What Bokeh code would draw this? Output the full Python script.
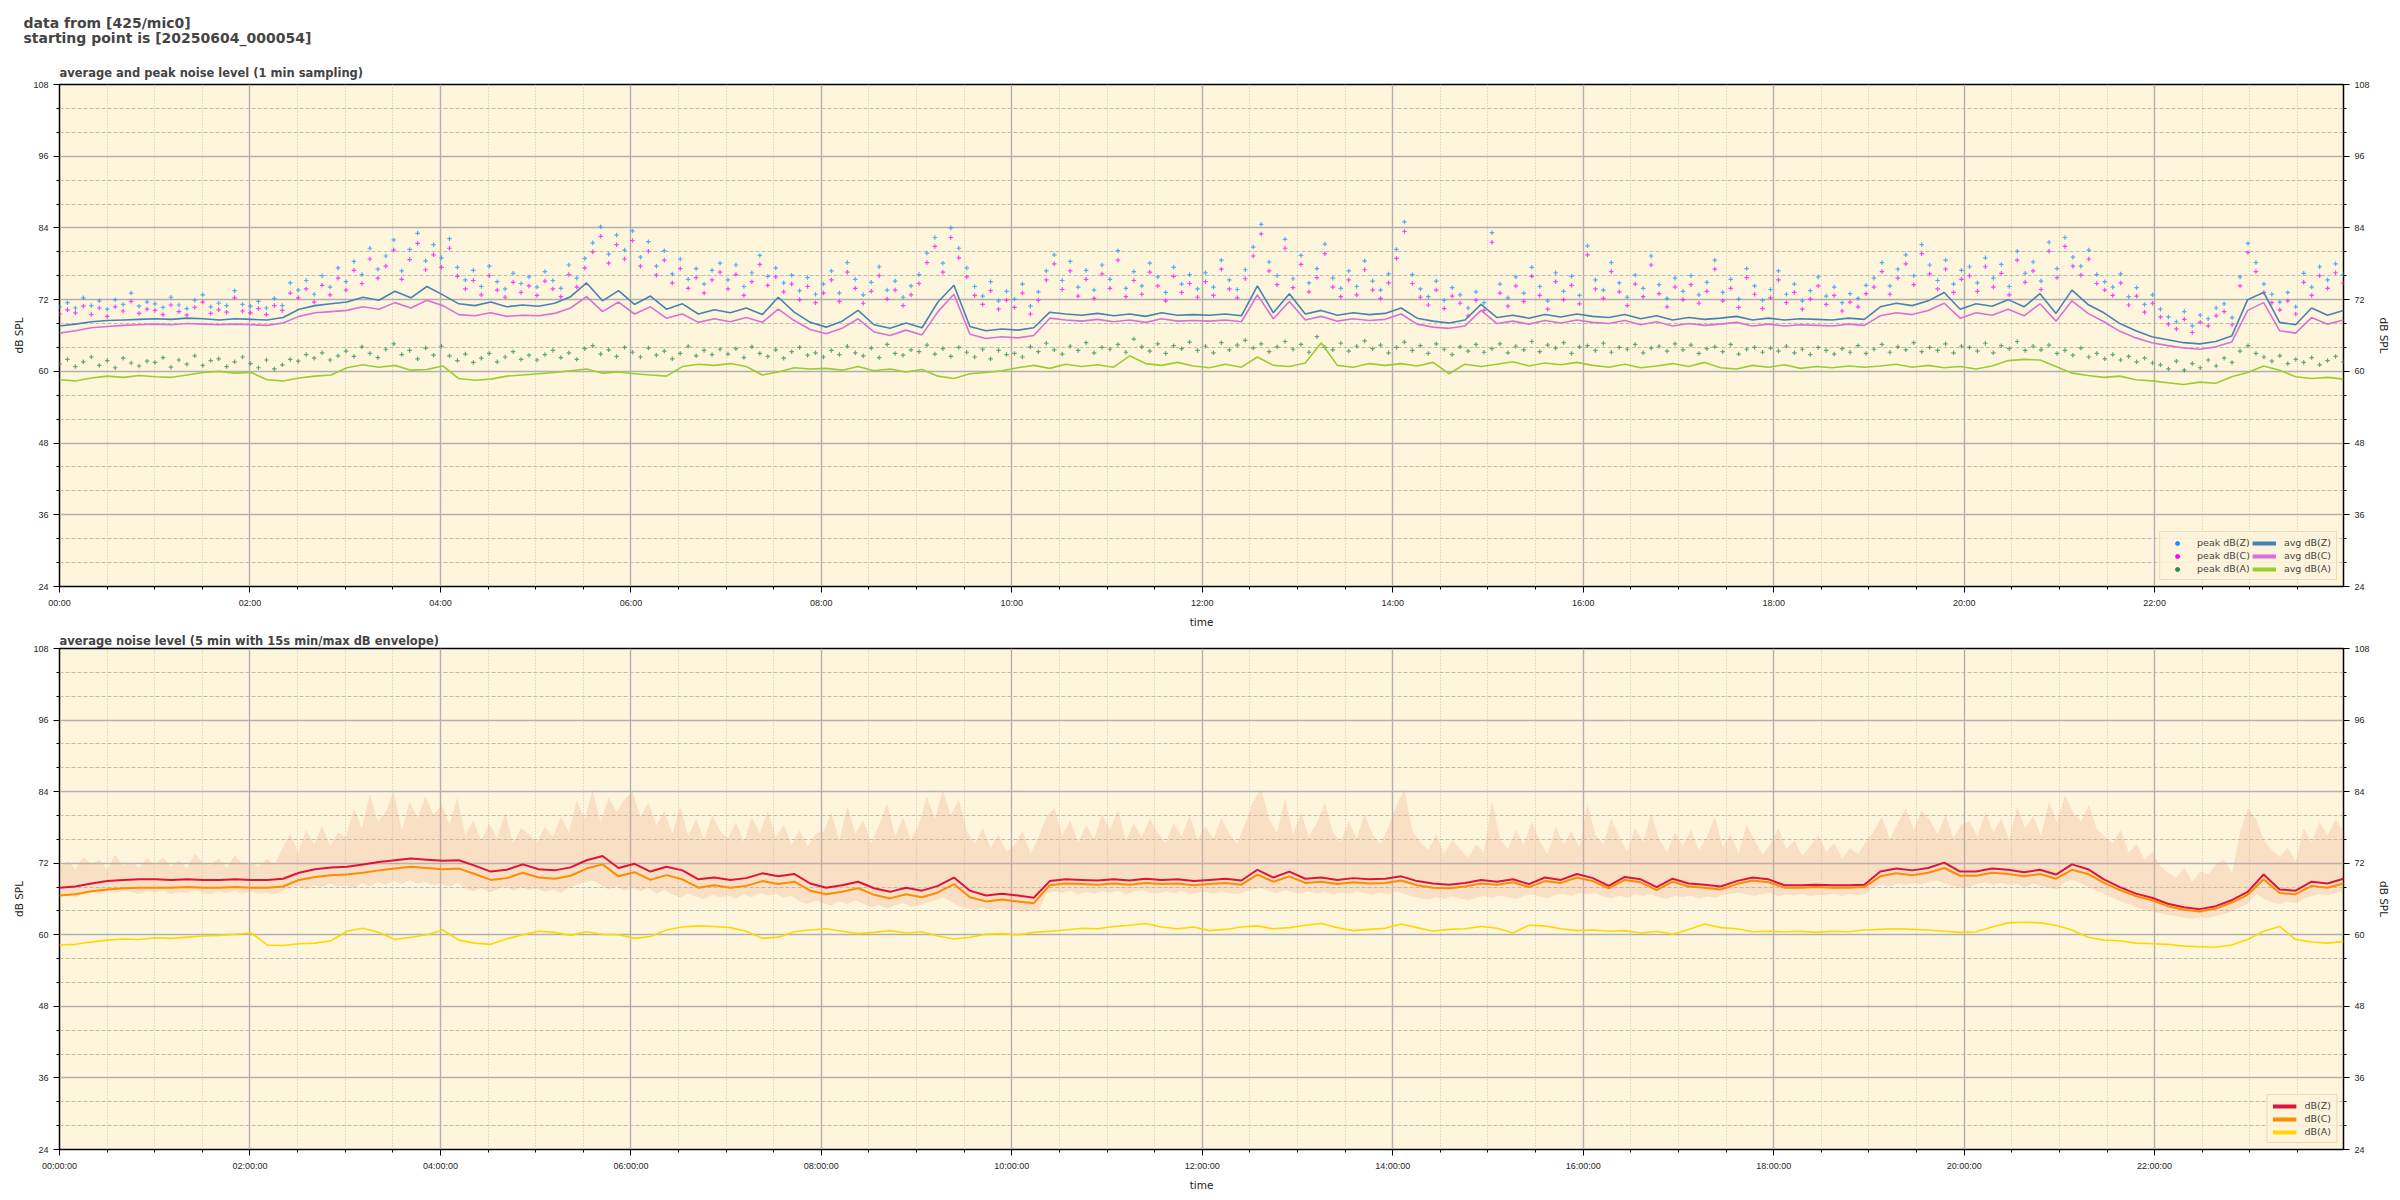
import numpy as np
from bokeh.plotting import figure
from bokeh.models import (ColumnDataSource, FixedTicker, LinearAxis, Range1d,
                          Legend, LegendItem, Title)
from bokeh.layouts import column
from bokeh.embed import file_html
from bokeh.resources import INLINE

# ---------------- data (dB SPL) ----------------
suptitle = "data from [425/mic0]\nstarting point is [20250604_000054]"
title_top = "average and peak noise level (1 min sampling)"
title_bot = "average noise level (5 min with 15s min/max dB envelope)"

# 10-minute samples of the averages (144 values, 6 per hour)
avg_z = [67.6, 67.9, 68.3, 68.5, 68.6, 68.7, 68.8, 68.7, 68.9, 68.8, 68.6, 68.8,
         68.7, 68.6, 69.0, 70.4, 71.0, 71.3, 71.6, 72.4, 71.9, 73.4, 72.3, 74.2,
         72.8, 71.3, 71.0, 71.6, 70.8, 71.1, 70.9, 71.4, 72.5, 74.8, 71.8, 73.5,
         71.2, 72.6, 70.4, 71.3, 69.6, 70.3, 69.8, 70.6, 69.5, 72.4, 69.9, 68.2,
         67.4, 68.4, 70.2, 67.8, 67.2, 68.1, 67.3, 71.6, 74.4, 67.5, 66.8, 67.1,
         66.9, 67.3, 69.9, 69.6, 69.4, 69.7, 69.3, 69.6, 69.2, 69.8, 69.4, 69.5,
         69.4, 69.6, 69.3, 74.3, 69.8, 73.0, 69.6, 70.2, 69.4, 69.8, 69.5, 69.7,
         70.6, 68.9, 68.4, 68.1, 68.6, 71.2, 69.0, 69.4, 68.9, 69.5, 69.1, 69.6,
         69.2, 69.0, 69.5, 68.8, 69.3, 68.6, 69.0, 68.7, 68.9, 69.2, 68.6, 68.9,
         68.6, 68.8, 68.7, 68.6, 68.9, 68.7, 70.8, 71.4, 71.0, 71.8, 73.2, 70.4,
         71.3, 70.9, 72.0, 70.8, 73.0, 69.7, 73.6, 71.2, 69.8, 68.0, 66.8, 65.8,
         65.3, 64.8, 64.6, 65.0, 65.9, 72.0, 73.2, 68.2, 67.8, 70.6, 69.4, 70.2]
avg_c = [66.4, 66.8, 67.3, 67.5, 67.7, 67.8, 67.9, 67.8, 68.0, 67.9, 67.8, 67.9,
         67.8, 67.7, 68.1, 69.2, 69.8, 70.0, 70.2, 70.8, 70.4, 71.5, 70.6, 71.9,
         71.0, 69.5, 69.3, 69.8, 69.2, 69.4, 69.3, 69.7, 70.6, 72.5, 70.0, 71.6,
         69.6, 70.8, 68.9, 69.6, 68.2, 68.8, 68.3, 69.0, 68.2, 70.4, 68.5, 67.0,
         66.3, 67.2, 68.8, 66.6, 66.0, 66.9, 66.1, 70.0, 72.9, 66.2, 65.5, 65.8,
         65.6, 66.0, 68.9, 68.6, 68.4, 68.7, 68.3, 68.6, 68.2, 68.8, 68.4, 68.5,
         68.4, 68.6, 68.3, 72.8, 68.8, 71.7, 68.6, 69.2, 68.4, 68.8, 68.5, 68.7,
         69.6, 67.9, 67.4, 67.2, 67.6, 70.2, 68.0, 68.4, 67.9, 68.5, 68.1, 68.6,
         68.2, 68.0, 68.5, 67.8, 68.3, 67.6, 68.0, 67.7, 67.9, 68.2, 67.6, 67.9,
         67.6, 67.8, 67.7, 67.6, 67.9, 67.7, 69.3, 69.8, 69.5, 70.2, 71.4, 68.9,
         69.8, 69.4, 70.4, 69.3, 71.3, 68.4, 71.8, 69.7, 68.3, 66.7, 65.6, 64.8,
         64.3, 63.9, 63.7, 64.1, 64.9, 70.2, 71.5, 66.8, 66.4, 69.0, 67.9, 68.6]
avg_a = [58.6, 58.4, 58.9, 59.2, 59.0, 59.3, 59.1, 59.0, 59.4, 59.8, 60.0, 59.7,
         59.8, 58.6, 58.4, 58.9, 59.2, 59.4, 60.6, 61.1, 60.7, 61.0, 60.2, 60.3,
         60.9, 58.8, 58.5, 58.7, 59.2, 59.4, 59.6, 59.8, 60.1, 60.4, 59.7, 59.9,
         59.6, 59.4, 59.2, 60.8, 61.2, 61.0, 61.3, 60.8, 59.4, 59.9, 60.6, 60.4,
         60.5, 60.2, 60.8, 60.1, 60.4, 59.9, 60.3, 59.2, 58.8, 59.6, 59.8, 60.1,
         60.6, 61.0, 60.5, 61.2, 60.8, 61.1, 60.7, 62.6, 61.3, 61.0, 61.5, 60.9,
         60.6, 61.2, 60.7, 62.4, 61.0, 60.8, 61.4, 64.8, 61.0, 60.7, 61.3, 61.0,
         61.3, 60.9, 61.5, 59.6, 61.2, 60.8, 61.2, 61.6, 60.9, 61.4, 61.1, 61.5,
         61.0, 60.7, 61.2, 60.6, 60.9, 61.3, 60.8, 61.5, 60.6, 60.4, 61.0, 60.7,
         61.1, 60.5, 60.8, 60.6, 60.9, 60.7, 60.9, 61.2, 60.7, 61.0, 60.6, 60.8,
         60.4, 60.9, 61.8, 62.0, 61.9, 60.8, 59.7, 59.3, 59.0, 59.2, 58.6, 58.4,
         58.1, 57.8, 58.2, 58.0, 59.1, 59.8, 60.9, 60.2, 59.1, 58.8, 59.0, 58.7]

# 5-minute samples of the per-minute peaks (288 values, 12 per hour)
peak_z = [70.8, 71.5, 70.6, 72.3, 71.0, 71.8, 70.4, 72.0, 71.2, 73.1, 70.9, 71.6,
          71.3, 70.7, 72.4, 71.1, 70.5, 71.9, 72.8, 70.8, 71.4, 71.0, 73.5, 71.2,
          70.9, 71.7, 70.6, 72.2, 71.0, 74.8, 73.6, 75.2, 72.9, 76.0, 74.1, 77.3,
          75.0, 78.4, 76.2, 80.6, 77.1, 79.3, 82.0, 76.8, 80.4, 83.1, 78.5, 81.2,
          79.0, 82.2, 77.4, 75.3, 76.9, 74.2, 77.6, 75.0, 73.8, 76.4, 74.7, 75.8,
          74.1, 76.7, 75.2, 73.9, 77.8, 75.6, 78.9, 81.5, 84.2, 79.6, 82.8, 80.3,
          83.5, 79.1, 81.7, 77.6, 80.2, 76.3, 78.8, 75.4, 77.2, 74.6, 76.9, 78.1,
          75.3, 77.8, 74.2, 76.5, 79.4, 75.9, 77.3, 74.8, 76.1, 73.5, 75.7, 72.9,
          74.6, 76.8, 73.1, 78.2, 75.4, 72.8, 74.9, 77.5, 73.6, 75.1, 72.4, 74.3,
          76.2, 79.8, 82.4, 78.1, 84.0, 80.6, 77.3, 74.2, 72.6, 75.0, 71.8, 73.4,
          72.1, 74.6, 70.9, 73.3, 76.8, 79.5, 75.2, 78.4, 74.1, 76.9, 73.6, 77.8,
          75.4, 80.2, 73.9, 76.7, 74.3, 78.1, 75.8, 73.2, 77.4, 74.6, 76.2, 73.8,
          76.5, 74.1, 78.6, 75.3, 73.7, 77.0, 80.8, 84.6, 78.3, 76.0, 82.1, 75.5,
          79.4, 74.8, 77.2, 81.3, 75.6, 73.9, 76.8, 74.2, 78.5, 75.1, 73.6, 76.3,
          80.4, 85.0, 76.2, 73.8, 72.5, 75.1, 71.9, 74.0, 72.8, 70.6, 73.3, 71.5,
          83.2, 74.6, 72.3, 75.8, 73.1, 77.4, 74.2, 71.8, 76.5, 73.4, 75.9, 72.7,
          81.0, 75.3, 73.6, 78.2, 74.8, 72.4, 76.1, 73.9, 79.3, 74.5, 72.2, 75.6,
          73.4, 76.0, 72.8, 74.9, 78.6, 73.2, 75.4, 72.1, 77.2, 74.3, 71.9, 73.7,
          76.8, 72.9, 74.6, 71.8, 73.5, 75.8, 72.6, 74.1, 71.5, 73.0, 72.2, 74.4,
          75.6, 78.2, 74.3, 77.1, 79.5, 76.0, 81.2, 77.8, 75.2, 78.6, 74.6, 76.9,
          77.5, 74.8, 79.0, 75.6, 77.9, 74.2, 80.1, 76.4, 78.3, 75.1, 81.6, 77.2,
          82.4, 79.1, 77.6, 80.3, 76.2, 75.0, 74.1, 76.3, 72.5, 74.0, 71.2, 72.8,
          70.4, 69.1, 68.3, 70.0, 67.6, 69.4, 68.8, 70.6, 71.3, 69.0, 75.8, 81.4,
          78.2, 74.6, 72.9, 71.6, 73.2, 70.8, 76.4, 74.1, 77.5, 75.3, 78.0, 76.2]
peak_c = [69.6, 70.3, 69.8, 70.9, 69.5, 70.6, 69.2, 70.8, 70.1, 71.7, 69.7, 70.4,
          70.2, 69.5, 71.1, 70.0, 69.4, 70.7, 71.6, 69.7, 70.3, 69.9, 72.3, 70.1,
          69.8, 70.5, 69.5, 71.0, 70.2, 73.1, 72.3, 73.8, 71.6, 74.4, 72.8, 75.6,
          73.6, 76.9, 74.7, 78.8, 75.6, 77.6, 80.3, 75.4, 78.7, 81.4, 77.0, 79.5,
          77.4, 80.6, 75.9, 73.8, 75.2, 72.8, 76.0, 73.6, 72.4, 74.9, 73.2, 74.3,
          72.7, 75.1, 73.8, 72.5, 76.2, 74.1, 77.3, 80.0, 82.6, 78.1, 81.2, 78.8,
          81.9, 77.6, 80.1, 76.1, 78.6, 74.8, 77.2, 73.9, 75.7, 73.1, 75.3, 76.6,
          73.8, 76.2, 72.7, 75.0, 77.9, 74.4, 75.8, 73.3, 74.6, 72.0, 74.2, 71.5,
          73.1, 75.3, 71.7, 76.6, 73.9, 71.4, 73.4, 76.0, 72.1, 73.6, 71.0, 72.8,
          74.7, 78.2, 80.9, 76.6, 82.4, 79.0, 75.8, 72.7, 71.2, 73.5, 70.4, 71.9,
          70.7, 73.1, 69.6, 71.9, 75.3, 78.0, 73.7, 76.8, 72.6, 75.4, 72.2, 76.3,
          73.9, 78.6, 72.5, 75.2, 72.9, 76.6, 74.3, 71.8, 75.9, 73.2, 74.7, 72.4,
          75.0, 72.7, 77.1, 73.8, 72.3, 75.5, 79.3, 83.0, 76.8, 74.5, 80.6, 74.0,
          77.9, 73.3, 75.7, 79.7, 74.1, 72.5, 75.3, 72.8, 77.0, 73.6, 72.2, 74.8,
          78.9, 83.4, 74.7, 72.4, 71.1, 73.6, 70.5, 72.6, 71.4, 69.3, 71.9, 70.2,
          81.6, 73.1, 70.9, 74.3, 71.7, 75.9, 72.7, 70.4, 75.0, 72.0, 74.4, 71.3,
          79.5, 73.8, 72.2, 76.7, 73.3, 71.0, 74.6, 72.5, 77.8, 73.0, 70.8, 74.1,
          72.0, 74.5, 71.4, 73.4, 77.1, 71.8, 73.9, 70.7, 75.7, 72.9, 70.5, 72.3,
          75.3, 71.5, 73.2, 70.4, 72.1, 74.3, 71.2, 72.7, 70.1, 71.6, 70.8, 73.0,
          74.1, 76.7, 72.9, 75.6, 78.0, 74.5, 79.7, 76.3, 73.8, 77.1, 73.2, 75.4,
          76.0, 73.4, 77.5, 74.1, 76.4, 72.8, 78.6, 74.9, 76.8, 73.7, 80.1, 75.7,
          80.9, 77.6, 76.1, 78.8, 74.7, 73.6, 72.7, 74.8, 71.1, 72.6, 69.9, 71.4,
          69.1, 67.9, 67.1, 68.7, 66.5, 68.2, 67.6, 69.3, 70.0, 67.8, 74.3, 79.9,
          76.7, 73.2, 71.5, 70.3, 71.8, 69.6, 74.9, 72.7, 76.0, 73.9, 76.5, 74.8]
peak_a = [61.2, 62.0, 60.8, 61.6, 62.4, 61.0, 61.8, 60.6, 62.2, 61.4, 60.9, 61.7,
          61.5, 62.3, 60.7, 61.9, 61.2, 62.6, 61.0, 61.8, 62.1, 60.8, 61.6, 62.4,
          61.3, 60.6, 61.9, 60.4, 61.1, 62.0, 61.7, 62.8, 62.2, 63.1, 61.9, 62.6,
          63.4, 62.5, 64.1, 63.0, 62.3, 63.7, 64.6, 62.8, 63.5, 62.1, 63.9, 62.7,
          64.2, 62.6, 61.8, 62.9, 61.5, 62.2, 63.0, 61.6, 62.4, 63.3, 62.0, 62.7,
          61.9, 62.8, 63.5, 62.3, 63.1, 62.0, 63.8, 64.3, 62.9, 63.6, 62.5, 64.0,
          63.2, 62.4, 63.9, 62.7, 63.4, 62.1, 63.0, 64.2, 62.6, 63.5, 62.8, 63.7,
          62.9, 63.8, 62.3, 64.1, 63.0, 62.5, 63.6, 62.2, 63.3, 64.0, 62.7, 63.1,
          62.4, 63.5, 62.8, 64.2, 63.1, 62.6, 63.9, 62.3, 64.5, 63.0, 62.7, 63.6,
          63.3, 64.4, 62.9, 63.8, 62.5, 64.0, 63.2, 62.4, 63.7, 62.1, 63.5, 62.8,
          63.0, 62.4, 64.1, 63.3, 64.7, 63.6, 62.9, 64.2, 63.5, 64.8, 63.1, 64.0,
          63.7, 64.5, 63.2, 65.4, 64.1, 63.4, 64.6, 63.0, 64.3, 63.8, 64.9, 63.5,
          64.2, 63.1, 64.8, 63.6, 64.4, 65.2, 63.9, 64.6, 63.3, 64.1, 65.0, 63.7,
          64.5, 63.2, 65.8, 64.0, 63.6, 64.7, 63.4, 64.2, 65.1, 63.8, 64.4, 63.1,
          64.0, 64.9, 63.5, 64.3, 63.0, 64.6, 63.7, 62.8, 64.1, 63.4, 64.5, 63.2,
          63.8, 64.6, 63.1, 64.2, 63.6, 65.0, 63.3, 64.4, 63.9, 64.8, 63.0, 64.1,
          64.3, 63.5, 64.7, 63.2, 64.0, 63.7, 64.5, 63.1, 63.9, 64.2, 63.4, 64.6,
          63.6, 64.4, 63.0, 63.8, 64.1, 63.3, 64.5, 62.9, 63.7, 64.0, 63.2, 63.9,
          63.4, 64.2, 63.1, 63.7, 62.8, 64.0, 63.5, 62.9, 63.8, 63.2, 64.3, 63.0,
          63.7, 64.5, 63.2, 64.1, 63.6, 64.8, 63.3, 64.0, 63.5, 64.6, 63.1, 64.2,
          64.0, 63.4, 64.7, 63.1, 64.3, 63.8, 65.0, 63.5, 64.2, 63.6, 64.4, 63.0,
          63.5, 62.7, 63.9, 62.4, 63.0, 62.1, 62.8, 61.9, 62.5, 61.6, 62.2, 61.4,
          61.1, 60.4, 61.7, 60.2, 61.3, 60.6, 61.9, 60.9, 62.2, 61.5, 63.4, 64.3,
          63.0, 62.4, 61.7, 62.6, 61.3, 62.0, 61.5, 62.3, 61.1, 61.8, 62.5, 61.6]

# lower chart: 5 min averages (10-minute samples, 144 values)
lvl_z = [67.9, 68.1, 68.6, 69.0, 69.2, 69.3, 69.3, 69.2, 69.3, 69.2, 69.2, 69.3,
         69.2, 69.2, 69.4, 70.4, 71.0, 71.3, 71.4, 71.8, 72.2, 72.5, 72.8, 72.6,
         72.4, 72.5, 71.6, 70.6, 70.9, 71.8, 71.0, 70.8, 71.3, 72.5, 73.2, 71.2,
         71.9, 70.6, 71.4, 70.8, 69.3, 69.6, 69.2, 69.5, 70.3, 69.8, 70.2, 68.6,
         67.9, 68.3, 68.9, 67.8, 67.2, 67.9, 67.4, 68.2, 69.6, 67.4, 66.6, 66.9,
         66.6, 66.2, 69.0, 69.3, 69.2, 69.1, 69.3, 69.1, 69.4, 69.2, 69.3, 69.0,
         69.2, 69.4, 69.1, 70.9, 69.6, 70.6, 69.4, 69.6, 69.2, 69.5, 69.3, 69.4,
         69.8, 69.0, 68.6, 68.4, 68.7, 69.2, 68.9, 69.3, 68.5, 69.6, 69.2, 70.2,
         69.5, 68.2, 69.7, 69.3, 68.0, 69.4, 68.6, 68.4, 68.1, 69.0, 69.6, 69.3,
         68.3, 68.3, 68.4, 68.3, 68.3, 68.4, 70.6, 71.1, 70.8, 71.2, 72.1, 70.6,
         70.6, 71.1, 70.9, 70.5, 70.9, 70.1, 71.8, 71.0, 69.3, 68.0, 66.9, 66.2,
         65.2, 64.6, 64.3, 64.8, 65.8, 67.2, 70.1, 67.6, 67.4, 68.9, 68.6, 69.4]
lvl_c = [66.6, 66.8, 67.3, 67.6, 67.8, 67.9, 67.9, 67.9, 68.0, 67.9, 67.9, 68.0,
         67.9, 67.9, 68.1, 69.2, 69.7, 70.0, 70.1, 70.4, 70.8, 71.1, 71.4, 71.2,
         71.0, 71.1, 70.2, 69.2, 69.5, 70.4, 69.6, 69.4, 69.9, 71.1, 71.8, 69.8,
         70.5, 69.2, 70.0, 69.3, 67.9, 68.3, 67.9, 68.2, 69.0, 68.5, 68.9, 67.4,
         66.8, 67.2, 67.8, 66.7, 66.1, 66.8, 66.3, 67.1, 68.5, 66.3, 65.6, 65.9,
         65.6, 65.3, 68.3, 68.6, 68.5, 68.4, 68.6, 68.4, 68.7, 68.5, 68.6, 68.3,
         68.5, 68.7, 68.4, 70.1, 68.9, 69.8, 68.7, 68.9, 68.5, 68.8, 68.6, 68.7,
         69.1, 68.3, 67.9, 67.8, 68.1, 68.6, 68.4, 68.8, 68.0, 69.0, 68.7, 69.6,
         69.0, 67.8, 69.2, 68.8, 67.5, 68.9, 68.1, 67.9, 67.6, 68.5, 69.1, 68.8,
         67.9, 67.9, 68.0, 67.9, 67.9, 68.0, 69.8, 70.3, 70.0, 70.4, 71.2, 69.9,
         69.9, 70.4, 70.2, 69.8, 70.2, 69.4, 70.9, 70.2, 68.7, 67.5, 66.5, 65.8,
         64.8, 64.2, 63.9, 64.4, 65.4, 66.7, 69.3, 67.0, 66.8, 68.2, 67.9, 68.6]
lvl_a = [58.3, 58.4, 58.8, 59.1, 59.3, 59.2, 59.5, 59.4, 59.6, 59.8, 59.9, 60.1,
         60.3, 58.3, 58.2, 58.5, 58.6, 59.0, 60.6, 61.1, 60.4, 59.2, 59.6, 60.0,
         60.8, 59.1, 58.6, 58.4, 59.3, 60.0, 60.6, 60.4, 59.9, 60.5, 60.1, 60.0,
         59.4, 59.7, 60.8, 61.3, 61.5, 61.4, 61.2, 60.6, 59.4, 59.6, 60.5, 60.8,
         61.0, 60.6, 60.2, 60.4, 60.7, 60.3, 60.5, 59.8, 59.3, 59.6, 60.1, 60.2,
         60.0, 60.4, 60.6, 60.8, 61.1, 61.0, 61.4, 61.6, 61.9, 61.3, 61.0, 61.3,
         60.7, 60.9, 61.3, 61.5, 61.0, 61.2, 61.6, 61.9, 61.2, 60.7, 60.9, 61.1,
         61.8, 61.2, 60.6, 60.9, 61.0, 61.4, 61.1, 60.3, 61.6, 61.5, 61.0, 60.7,
         60.8, 60.6, 60.7, 60.3, 60.6, 60.1, 60.9, 61.8, 61.2, 61.0, 60.5, 60.6,
         60.5, 60.6, 60.4, 60.6, 60.5, 60.8, 60.9, 61.0, 60.9, 60.8, 60.6, 60.4,
         60.5, 61.3, 62.0, 62.1, 62.0, 61.6, 60.8, 59.6, 59.1, 59.0, 58.6, 58.5,
         58.4, 58.1, 58.0, 57.9, 58.3, 59.2, 60.6, 61.4, 59.2, 58.8, 58.6, 58.9]

# 15 s min/max envelope (5-minute samples, 288 values)
env_max = [71.2, 72.4, 71.0, 73.1, 71.8, 72.6, 70.9, 73.4, 71.5, 72.2, 71.3, 72.9,
           71.6, 73.0, 71.4, 72.5, 71.1, 73.6, 72.0, 71.7, 72.8, 71.2, 73.3, 71.9,
           72.1, 71.4, 72.7, 71.8, 74.5, 76.9, 73.8, 77.6, 75.2, 78.3, 74.9, 77.1,
           76.4, 81.2, 77.8, 83.6, 78.9, 80.7, 84.1, 77.5, 82.3, 79.6, 83.2, 80.1,
           81.8, 78.4, 83.0, 76.7, 79.2, 75.8, 78.6, 76.2, 80.4, 75.4, 77.9, 76.8,
           75.6, 78.1, 76.4, 79.8, 77.2, 82.5, 79.4, 84.3, 78.8, 83.1, 80.6, 82.7,
           84.0, 79.7, 82.2, 78.3, 80.8, 77.0, 81.5, 76.6, 79.4, 75.9, 80.1, 77.4,
           76.2, 78.9, 75.5, 79.7, 77.0, 80.8, 76.3, 78.4, 75.1, 77.6, 74.8, 76.9,
           77.3, 80.4, 75.8, 81.6, 76.9, 79.2, 75.3, 78.5, 82.0, 76.4, 79.7, 75.9,
           78.6, 83.2, 79.4, 84.2, 80.1, 82.7, 77.5, 75.2, 77.9, 74.6, 76.8, 73.9,
           75.1, 77.4, 73.6, 76.2, 79.8, 81.3, 76.7, 79.1, 75.5, 78.4, 76.0, 80.2,
           77.6, 80.9, 75.8, 78.7, 76.3, 79.5, 77.1, 75.4, 78.8, 76.5, 80.0, 75.9,
           78.2, 76.0, 79.6, 76.9, 75.3, 78.7, 82.4, 84.5, 79.3, 77.1, 82.9, 76.8,
           80.5, 76.4, 78.8, 82.1, 77.2, 75.6, 79.0, 76.1, 80.3, 76.8, 75.2, 78.1,
           81.7, 84.3, 77.5, 75.4, 74.2, 76.8, 73.6, 75.9, 74.4, 72.9, 75.2, 73.8,
           82.6, 76.1, 74.3, 77.6, 75.0, 78.9, 75.7, 73.5, 78.2, 75.1, 77.4, 74.6,
           81.9, 76.8, 75.2, 79.6, 76.3, 74.0, 77.8, 75.5, 80.4, 76.0, 73.9, 77.2,
           74.9, 77.6, 74.2, 76.4, 79.8, 74.7, 76.9, 73.6, 78.5, 75.8, 73.4, 75.2,
           77.9, 74.3, 75.8, 73.2, 74.9, 76.7, 73.9, 75.4, 72.8, 74.5, 73.5, 75.6,
           77.4, 79.8, 76.0, 78.7, 81.2, 77.6, 80.8, 79.3, 76.8, 80.1, 76.2, 78.5,
           79.0, 76.4, 80.6, 77.2, 79.4, 75.9, 81.5, 77.8, 79.9, 76.6, 82.3, 78.7,
           83.4, 80.6, 78.9, 81.8, 77.7, 76.5, 75.4, 77.6, 73.8, 75.2, 72.6, 73.9,
           71.5, 70.3, 69.6, 71.2, 68.9, 70.6, 70.1, 71.9, 72.6, 70.4, 77.1, 81.2,
           79.4, 75.9, 74.2, 73.0, 74.6, 72.3, 77.8, 75.5, 78.9, 76.6, 79.3, 77.4]
env_min = [66.4, 66.7, 66.3, 66.9, 67.1, 66.8, 67.3, 67.0, 67.4, 67.2, 66.9, 67.3,
           67.1, 67.4, 66.9, 67.2, 67.0, 67.5, 67.1, 66.8, 67.3, 67.0, 67.4, 66.9,
           67.2, 66.9, 67.1, 66.8, 67.4, 67.9, 68.2, 67.6, 68.4, 68.0, 68.6, 68.1,
           68.3, 67.8, 68.7, 68.1, 68.9, 68.4, 69.0, 68.5, 69.2, 68.6, 68.9, 68.3,
           68.6, 68.0, 68.8, 67.7, 67.3, 67.9, 67.1, 67.6, 68.2, 67.4, 68.0, 67.5,
           67.8, 67.2, 67.6, 67.0, 67.9, 68.3, 68.8, 69.1, 68.4, 67.6, 68.2, 67.4,
           68.0, 67.3, 67.9, 66.9, 67.5, 66.8, 66.2, 66.9, 66.4, 66.0, 66.7, 66.3,
           66.5, 66.1, 66.8, 66.3, 67.0, 66.6, 66.9, 66.2, 66.5, 65.6, 65.2, 65.8,
           65.3, 64.9, 65.6, 65.1, 65.8, 65.2, 64.6, 65.0, 64.4, 64.9, 65.3, 64.7,
           64.9, 65.4, 65.8, 66.3, 65.6, 64.8, 64.5, 64.1, 64.6, 64.0, 64.4, 64.2,
           64.3, 63.9, 64.1, 63.8, 66.9, 67.3, 67.0, 67.4, 66.8, 67.2, 66.9, 67.3,
           67.0, 67.4, 66.8, 67.2, 67.5, 67.1, 66.9, 67.3, 67.0, 67.4, 66.8, 67.1,
           67.2, 66.9, 67.3, 67.0, 66.8, 67.2, 67.6, 67.9, 67.3, 67.0, 67.5, 67.1,
           67.0, 67.3, 66.9, 67.2, 66.8, 67.1, 66.9, 67.3, 67.0, 66.7, 67.1, 66.8,
           67.2, 66.9, 66.4, 66.1, 65.9, 66.3, 66.0, 66.4, 66.1, 65.8, 66.2, 66.5,
           66.2, 66.6, 66.3, 66.0, 66.5, 66.8, 66.4, 66.1, 66.7, 66.9, 66.5, 67.0,
           66.7, 67.0, 66.4, 66.1, 66.6, 66.2, 66.8, 66.5, 66.9, 66.3, 66.0, 66.6,
           66.3, 66.6, 66.0, 66.4, 66.2, 66.7, 66.9, 67.1, 66.8, 66.5, 66.9, 67.0,
           66.5, 66.8, 66.6, 66.9, 66.4, 66.7, 66.6, 66.9, 66.5, 66.8, 66.6, 66.9,
           68.0, 68.4, 68.1, 68.6, 68.3, 68.7, 68.4, 68.9, 69.1, 68.5, 68.2, 67.9,
           68.1, 68.5, 68.8, 68.4, 68.7, 68.3, 68.5, 68.0, 68.6, 68.2, 67.9, 67.6,
           68.9, 69.2, 68.6, 68.0, 67.4, 66.8, 66.2, 65.6, 65.1, 64.6, 64.2, 63.9,
           63.6, 63.3, 63.1, 62.9, 62.7, 63.0, 62.8, 63.2, 63.5, 63.9, 64.6, 65.2,
           66.9, 66.0, 65.4, 65.1, 65.6, 65.3, 66.1, 66.5, 66.9, 66.6, 67.0, 67.3]

# axis ticks (minutes since midnight / dB)
x_major = list(range(0, 1440, 120))
x_minor = [m for m in range(0, 1440, 30) if m % 120 != 0]
y_major = [24, 36, 48, 60, 72, 84, 96, 108]
y_minor = [v for v in range(24, 109, 4) if v % 12 != 0]
labels_top = {m: "%02d:00" % (m // 60) for m in x_major}
labels_bot = {m: "%02d:00:00" % (m // 60) for m in x_major}

# sample positions (minutes) spread over the recorded day
t_avg = np.linspace(0, 1439, len(avg_z))
t_peak = np.linspace(0, 1439, len(peak_z))

# ---------------- styling ----------------
W = 2400
BG = "#fef6dc"
TICK_FONT = "Liberation Sans"
FONT = "DejaVu Sans"


def base_fig(height, top, bottom, labels):
    p = figure(width=W, height=height, output_backend="svg", toolbar_location=None,
               x_range=Range1d(0, 1439), y_range=Range1d(24, 108),
               min_border_left=59, min_border_right=57,
               min_border_top=top, min_border_bottom=bottom,
               background_fill_color=BG, border_fill_color="white",
               outline_line_color="black", outline_line_width=1.5)
    xt = FixedTicker(ticks=x_major, minor_ticks=x_minor)
    yt = FixedTicker(ticks=y_major, minor_ticks=y_minor)
    p.xaxis.ticker = xt
    p.yaxis.ticker = yt
    p.xaxis.major_label_overrides = labels
    p.xaxis.axis_label = "time"
    p.yaxis.axis_label = "dB SPL"
    right = LinearAxis(ticker=yt, axis_label="dB SPL")
    p.add_layout(right, "right")
    for ax in p.xaxis + p.yaxis:
        ax.axis_line_color = None
        ax.major_tick_out = 6
        ax.major_tick_in = 0
        ax.minor_tick_out = 3
        ax.minor_tick_in = 0
        ax.major_tick_line_color = "black"
        ax.minor_tick_line_color = "black"
        ax.major_label_text_font = TICK_FONT
        ax.major_label_text_font_size = "9px"
        ax.major_label_text_color = "#262626"
        ax.major_label_standoff = 5
        ax.axis_label_text_font = FONT
        ax.axis_label_text_font_size = "10.5px"
        ax.axis_label_text_font_style = "normal"
        ax.axis_label_text_color = "#1a1a1a"
        ax.axis_label_standoff = 5
    p.xgrid.ticker = xt
    p.ygrid.ticker = yt
    p.grid.grid_line_color = "#b0b0b0"
    p.grid.grid_line_width = 1.4
    p.xgrid.minor_grid_line_color = "#c8c4b4"
    p.xgrid.minor_grid_line_dash = "1 2"
    p.xgrid.minor_grid_line_width = 1
    p.ygrid.minor_grid_line_color = "#bdbab0"
    p.ygrid.minor_grid_line_dash = "4 2"
    p.ygrid.minor_grid_line_width = 1
    p.title.text = ""
    return p


def add_title(p, text, size, standoff, offset, lh):
    p.add_layout(Title(text=text, align="left", offset=offset, standoff=standoff,
                       text_font=FONT, text_font_style="bold",
                       text_line_height=lh, text_font_size=size), "above")


def legend(p, items, ncols):
    lg = Legend(items=items, location="bottom_right", orientation="vertical",
                nrows=3, ncols=ncols,
                label_text_font=FONT, label_text_font_size="9.5px",
                glyph_width=24, glyph_height=10, label_height=10,
                label_standoff=8, spacing=2, padding=5, margin=6,
                background_fill_color="#fdf3da", background_fill_alpha=0.85,
                border_line_color="#dcc29e", border_line_width=1.5)
    p.add_layout(lg)


# off-screen stand-ins, used only to draw the legend swatches
far = dict(x=[-500, -400], y=[0, 0])

# ---------------- top chart ----------------
p1 = base_fig(630, 84, 42, labels_top)
add_title(p1, title_top, "11.5px", 10, 0, 1.0)
add_title(p1, suptitle, "14px", 24, -36, 0.94)

peak_cols = [("peak dB(Z)", peak_z, "#1e90ff"), ("peak dB(C)", peak_c, "#ff00ff"),
             ("peak dB(A)", peak_a, "#2e8b57")]
avg_cols = [("avg dB(Z)", avg_z, "#4682b4"), ("avg dB(C)", avg_c, "#da70d6"),
            ("avg dB(A)", avg_a, "#9acd32")]
items = []
for name, vals, col in peak_cols:
    p1.scatter(t_peak, vals, marker="cross", size=4.5, line_color=col,
               line_alpha=0.75, line_width=1.2)
for name, vals, col in avg_cols:
    p1.line(t_avg, vals, line_color=col, line_width=1.6)
for name, vals, col in peak_cols:
    r = p1.scatter("x", "y", source=ColumnDataSource(far), marker="circle",
                   size=5, fill_color=col, line_color=col)
    items.append(LegendItem(label=name, renderers=[r]))
for name, vals, col in avg_cols:
    r = p1.line("x", "y", source=ColumnDataSource(far), line_color=col, line_width=4)
    items.append(LegendItem(label=name, renderers=[r]))
legend(p1, items, 2)

# ---------------- bottom chart ----------------
p2 = base_fig(570, 15, 51, labels_bot)
add_title(p2, title_bot, "11.5px", 2, 0, 1.0)
p2.varea(x=t_peak, y1=env_min, y2=env_max, fill_color="#f0a890", fill_alpha=0.3)
lvl_cols = [("dB(Z)", lvl_z, "#dc143c", 2.0), ("dB(C)", lvl_c, "#ff8c00", 2.0),
            ("dB(A)", lvl_a, "#ffd700", 1.6)]
items2 = []
for name, vals, col, lw in lvl_cols:
    p2.line(t_avg, vals, line_color=col, line_width=lw)
for name, vals, col, lw in lvl_cols:
    r = p2.line("x", "y", source=ColumnDataSource(far), line_color=col, line_width=4)
    items2.append(LegendItem(label=name, renderers=[r]))
legend(p2, items2, 1)

layout = column(p1, p2, spacing=0)
open("out.html", "w").write(file_html(layout, INLINE))
